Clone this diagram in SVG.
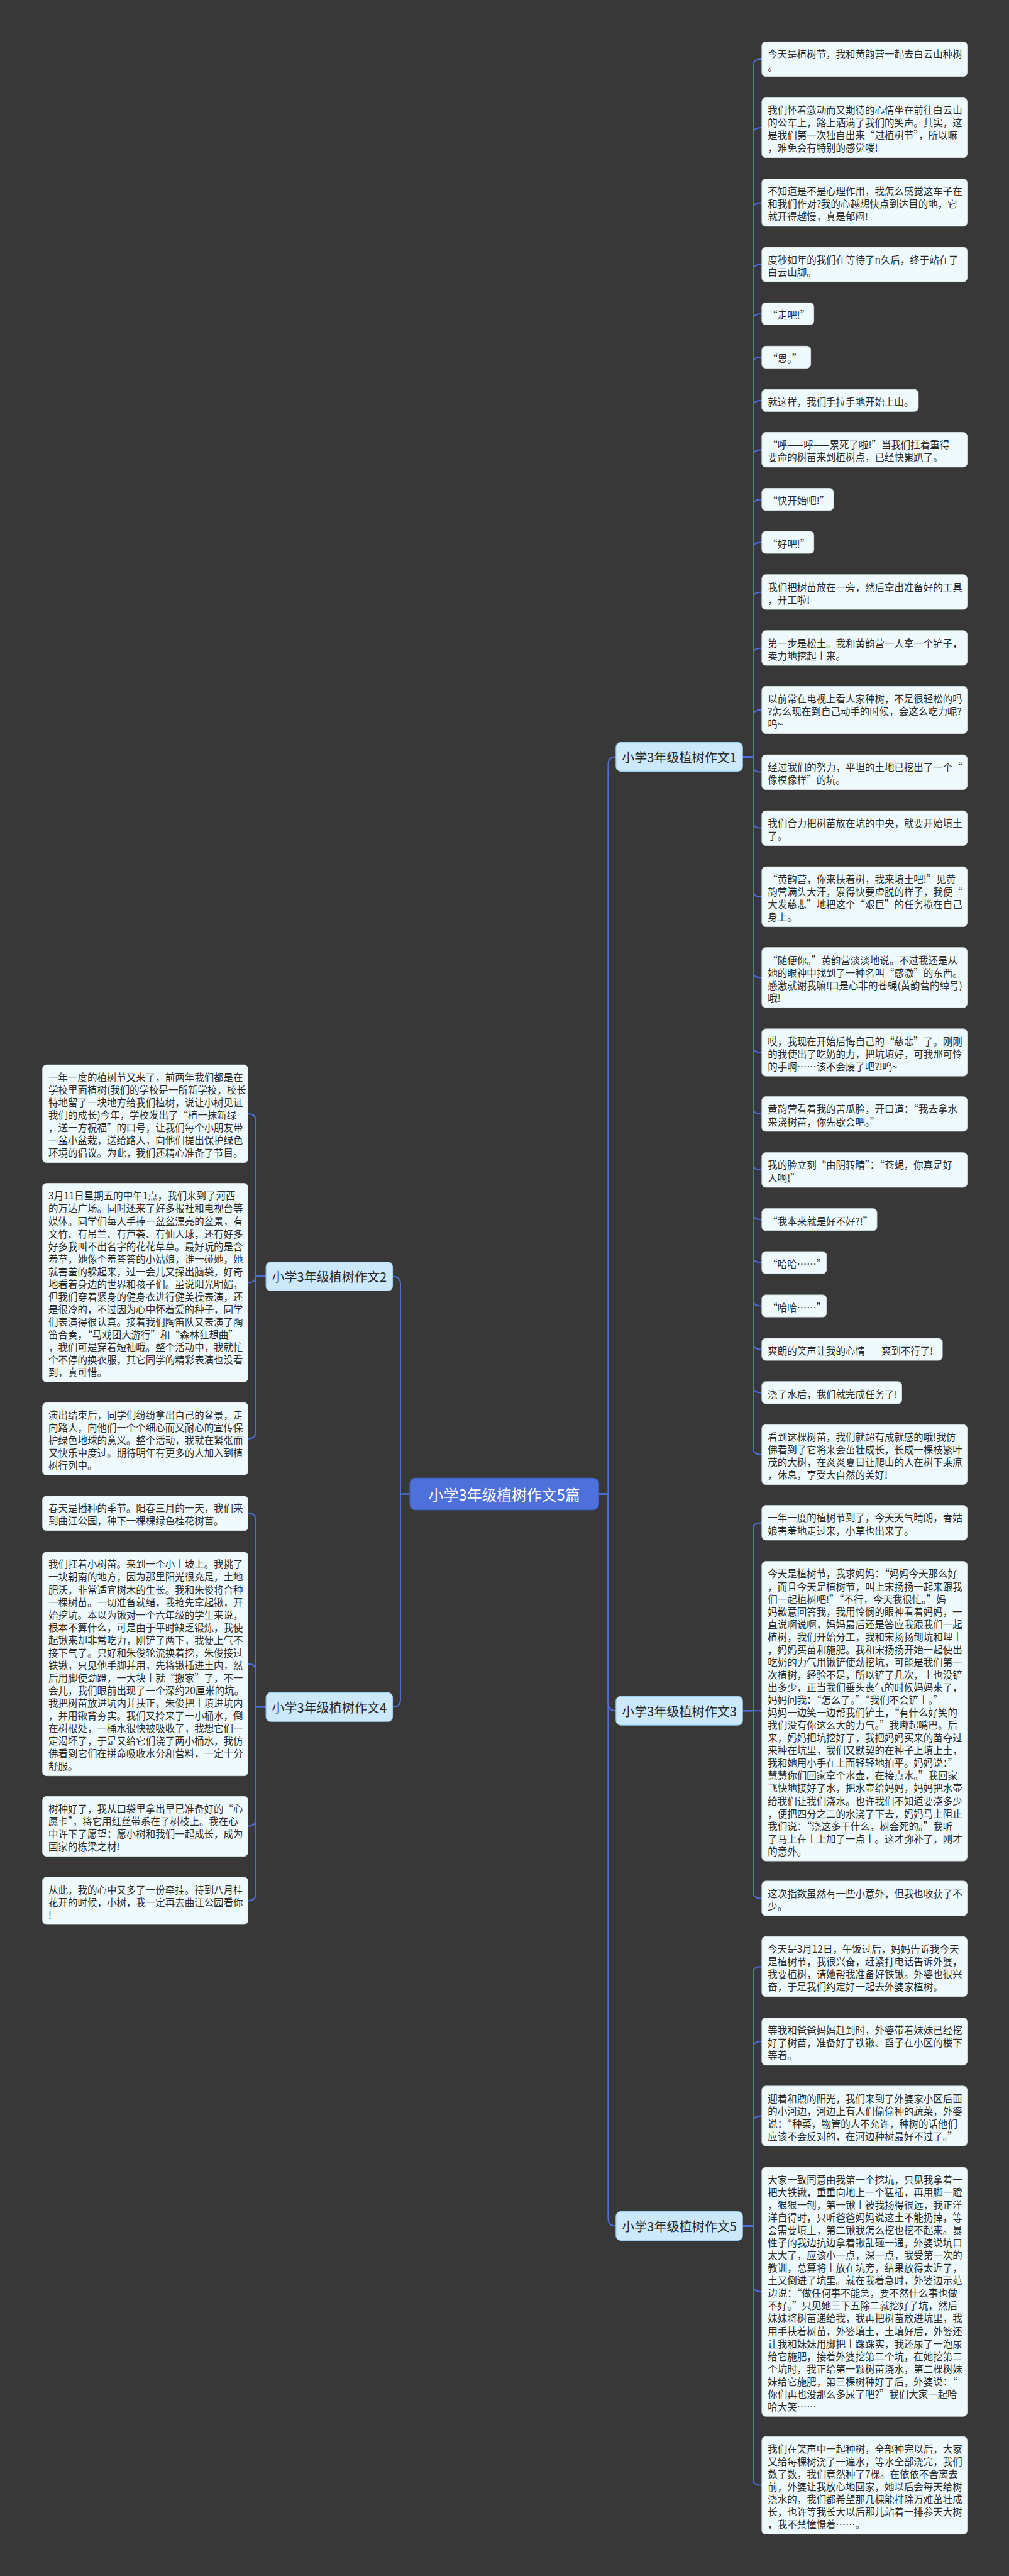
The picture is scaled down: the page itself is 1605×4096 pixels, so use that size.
<svg xmlns="http://www.w3.org/2000/svg" width="1605" height="4096" viewBox="0 0 1605 4096">
<style>
.bg{fill:#383838}
.leaf rect{fill:#effafd;stroke:#d3e0e4;stroke-width:1.5}
.br rect{fill:#cbe9fb;stroke:#9fcdee;stroke-width:2}
.root rect{fill:#4e70da;stroke:#4063cc;stroke-width:2}
.lt{font-family:"Noto Sans CJK SC","Noto Sans",sans-serif;font-size:24.7px;fill:#2a2a2a;dominant-baseline:central}
.bt{font-family:"Noto Sans CJK SC","Noto Sans",sans-serif;font-size:32px;fill:#2a2a2a;dominant-baseline:central;text-anchor:middle}
.rt{font-family:"Noto Sans CJK SC","Noto Sans",sans-serif;font-size:38px;fill:#ffffff;dominant-baseline:central;text-anchor:middle}
.cn path{fill:none;stroke:#4f70db;stroke-width:3.2}
</style>
<rect class="bg" x="0" y="0" width="1605" height="4096"/>
<g transform="scale(0.62695 0.62678)">
<g class="cn" id="connectors">
<path d="M1040,3790 H1016 V3258 Q1016,3238 996,3238"/>
<path d="M1040,3790 H1016 V4310.5 Q1016,4330.5 996,4330.5"/>
<path d="M1519,3790 H1543 V1940 Q1543,1920 1563,1920"/>
<path d="M1519,3790 H1543 V4320 Q1543,4340 1563,4340"/>
<path d="M1519,3790 H1543 V5627 Q1543,5647 1563,5647"/>
<path d="M1884,1920 H1911 V164 Q1911,150 1933,150"/>
<path d="M1884,1920 H1911 V338 Q1911,324 1933,324"/>
<path d="M1884,1920 H1911 V528 Q1911,514 1933,514"/>
<path d="M1884,1920 H1911 V685 Q1911,671 1933,671"/>
<path d="M1884,1920 H1911 V810 Q1911,796 1933,796"/>
<path d="M1884,1920 H1911 V920 Q1911,906 1933,906"/>
<path d="M1884,1920 H1911 V1030 Q1911,1016 1933,1016"/>
<path d="M1884,1920 H1911 V1155 Q1911,1141 1933,1141"/>
<path d="M1884,1920 H1911 V1281 Q1911,1267 1933,1267"/>
<path d="M1884,1920 H1911 V1390 Q1911,1376 1933,1376"/>
<path d="M1884,1920 H1911 V1516 Q1911,1502 1933,1502"/>
<path d="M1884,1920 H1911 V1658 Q1911,1644 1933,1644"/>
<path d="M1884,1920 H1911 V1815 Q1911,1801 1933,1801"/>
<path d="M1884,1920 H1911 V1945 Q1911,1959 1933,1959"/>
<path d="M1884,1920 H1911 V2087 Q1911,2101 1933,2101"/>
<path d="M1884,1920 H1911 V2261 Q1911,2275 1933,2275"/>
<path d="M1884,1920 H1911 V2466 Q1911,2480 1933,2480"/>
<path d="M1884,1920 H1911 V2656 Q1911,2670 1933,2670"/>
<path d="M1884,1920 H1911 V2812 Q1911,2826 1933,2826"/>
<path d="M1884,1920 H1911 V2954 Q1911,2968 1933,2968"/>
<path d="M1884,1920 H1911 V3080 Q1911,3094 1933,3094"/>
<path d="M1884,1920 H1911 V3189 Q1911,3203 1933,3203"/>
<path d="M1884,1920 H1911 V3299 Q1911,3313 1933,3313"/>
<path d="M1884,1920 H1911 V3409 Q1911,3423 1933,3423"/>
<path d="M1884,1920 H1911 V3519 Q1911,3533 1933,3533"/>
<path d="M1884,1920 H1911 V3676 Q1911,3690 1933,3690"/>
<path d="M1884,4340 H1911 V3877 Q1911,3863 1933,3863"/>
<path d="M1884,4340 H1933"/>
<path d="M1884,4340 H1911 V4802 Q1911,4816 1933,4816"/>
<path d="M1884,5647 H1911 V5003 Q1911,4989 1933,4989"/>
<path d="M1884,5647 H1911 V5193 Q1911,5179 1933,5179"/>
<path d="M1884,5647 H1911 V5382 Q1911,5368 1933,5368"/>
<path d="M1884,5647 H1911 V5800 Q1911,5814 1933,5814"/>
<path d="M1884,5647 H1911 V6291 Q1911,6305 1933,6305"/>
<path d="M675,3238 H648 V2839.5 Q648,2825.5 629,2825.5"/>
<path d="M675,3238 H648 V3240 Q648,3254 629,3254"/>
<path d="M675,3238 H648 V3636 Q648,3650 629,3650"/>
<path d="M675,4330.5 H648 V3853 Q648,3839 629,3839"/>
<path d="M675,4330.5 H648 V4235 Q648,4221 629,4221"/>
<path d="M675,4330.5 H648 V4619 Q648,4633 629,4633"/>
<path d="M675,4330.5 H648 V4808 Q648,4822 629,4822"/>
</g>

<g id="root" class="root"><rect x="1040" y="3750" width="479" height="80" rx="14"/><text class="rt" x="1279.5" y="3790">小学3年级植树作文5篇</text></g>
<g id="b1" class="br"><rect x="1563" y="1883.5" width="321" height="73" rx="12"/><text class="bt" x="1723.5" y="1920">小学3年级植树作文1</text></g>
<g id="b2" class="br"><rect x="675" y="3201.5" width="321" height="73" rx="12"/><text class="bt" x="835.5" y="3238">小学3年级植树作文2</text></g>
<g id="b3" class="br"><rect x="1563" y="4303.5" width="321" height="73" rx="12"/><text class="bt" x="1723.5" y="4340">小学3年级植树作文3</text></g>
<g id="b4" class="br"><rect x="675" y="4294" width="321" height="73" rx="12"/><text class="bt" x="835.5" y="4330.5">小学3年级植树作文4</text></g>
<g id="b5" class="br"><rect x="1563" y="5610.5" width="321" height="73" rx="12"/><text class="bt" x="1723.5" y="5647">小学3年级植树作文5</text></g>

<g id="n1-1" class="leaf"><rect x="1933" y="106" width="521" height="88" rx="10"/><text class="lt" x="1948" y="136"><tspan x="1948">今天是植树节，我和黄韵营一起去白云山种树</tspan><tspan x="1948" dy="32">。</tspan></text></g>
<g id="n1-2" class="leaf"><rect x="1933" y="248" width="521" height="152" rx="10"/><text class="lt" x="1948" y="278"><tspan x="1948">我们怀着激动而又期待的心情坐在前往白云山</tspan><tspan x="1948" dy="32">的公车上，路上洒满了我们的笑声。其实，这</tspan><tspan x="1948" dy="32">是我们第一次独自出来“过植树节”，所以嘛</tspan><tspan x="1948" dy="32">，难免会有特别的感觉喽!</tspan></text></g>
<g id="n1-3" class="leaf"><rect x="1933" y="454" width="521" height="120" rx="10"/><text class="lt" x="1948" y="484"><tspan x="1948">不知道是不是心理作用，我怎么感觉这车子在</tspan><tspan x="1948" dy="32">和我们作对?我的心越想快点到达目的地，它</tspan><tspan x="1948" dy="32">就开得越慢，真是郁闷!</tspan></text></g>
<g id="n1-4" class="leaf"><rect x="1933" y="627" width="521" height="88" rx="10"/><text class="lt" x="1948" y="657"><tspan x="1948">度秒如年的我们在等待了n久后，终于站在了</tspan><tspan x="1948" dy="32">白云山脚。</tspan></text></g>
<g id="n1-5" class="leaf"><rect x="1933" y="768" width="132" height="56" rx="10"/><text class="lt" x="1948" y="798">“走吧!”</text></g>
<g id="n1-6" class="leaf"><rect x="1933" y="878" width="124" height="56" rx="10"/><text class="lt" x="1948" y="908">“恩。”</text></g>
<g id="n1-7" class="leaf"><rect x="1933" y="988" width="397" height="56" rx="10"/><text class="lt" x="1948" y="1018">就这样，我们手拉手地开始上山。</text></g>
<g id="n1-8" class="leaf"><rect x="1933" y="1097" width="521" height="88" rx="10"/><text class="lt" x="1948" y="1127"><tspan x="1948">“呼——呼——累死了啦!”当我们扛着重得</tspan><tspan x="1948" dy="32">要命的树苗来到植树点，已经快累趴了。</tspan></text></g>
<g id="n1-9" class="leaf"><rect x="1933" y="1239" width="182" height="56" rx="10"/><text class="lt" x="1948" y="1269">“快开始吧!”</text></g>
<g id="n1-10" class="leaf"><rect x="1933" y="1348" width="132" height="56" rx="10"/><text class="lt" x="1948" y="1378">“好吧!”</text></g>
<g id="n1-11" class="leaf"><rect x="1933" y="1458" width="521" height="88" rx="10"/><text class="lt" x="1948" y="1488"><tspan x="1948">我们把树苗放在一旁，然后拿出准备好的工具</tspan><tspan x="1948" dy="32">，开工啦!</tspan></text></g>
<g id="n1-12" class="leaf"><rect x="1933" y="1600" width="521" height="88" rx="10"/><text class="lt" x="1948" y="1630"><tspan x="1948">第一步是松土。我和黄韵营一人拿一个铲子，</tspan><tspan x="1948" dy="32">卖力地挖起土来。</tspan></text></g>
<g id="n1-13" class="leaf"><rect x="1933" y="1741" width="521" height="120" rx="10"/><text class="lt" x="1948" y="1771"><tspan x="1948">以前常在电视上看人家种树，不是很轻松的吗</tspan><tspan x="1948" dy="32">?怎么现在到自己动手的时候，会这么吃力呢?</tspan><tspan x="1948" dy="32">呜~</tspan></text></g>
<g id="n1-14" class="leaf"><rect x="1933" y="1915" width="521" height="88" rx="10"/><text class="lt" x="1948" y="1945"><tspan x="1948">经过我们的努力，平坦的土地已挖出了一个“</tspan><tspan x="1948" dy="32">像模像样”的坑。</tspan></text></g>
<g id="n1-15" class="leaf"><rect x="1933" y="2057" width="521" height="88" rx="10"/><text class="lt" x="1948" y="2087"><tspan x="1948">我们合力把树苗放在坑的中央，就要开始填土</tspan><tspan x="1948" dy="32">了。</tspan></text></g>
<g id="n1-16" class="leaf"><rect x="1933" y="2199" width="521" height="152" rx="10"/><text class="lt" x="1948" y="2229"><tspan x="1948">“黄韵营，你来扶着树，我来填土吧!”见黄</tspan><tspan x="1948" dy="32">韵营满头大汗，累得快要虚脱的样子，我便“</tspan><tspan x="1948" dy="32">大发慈悲”地把这个“艰巨”的任务揽在自己</tspan><tspan x="1948" dy="32">身上。</tspan></text></g>
<g id="n1-17" class="leaf"><rect x="1933" y="2404" width="521" height="152" rx="10"/><text class="lt" x="1948" y="2434"><tspan x="1948">“随便你。”黄韵营淡淡地说。不过我还是从</tspan><tspan x="1948" dy="32">她的眼神中找到了一种名叫“感激”的东西。</tspan><tspan x="1948" dy="32">感激就谢我嘛!口是心非的苍蝇(黄韵营的绰号)</tspan><tspan x="1948" dy="32">哦!</tspan></text></g>
<g id="n1-18" class="leaf"><rect x="1933" y="2610" width="521" height="120" rx="10"/><text class="lt" x="1948" y="2640"><tspan x="1948">哎，我现在开始后悔自己的“慈悲”了。刚刚</tspan><tspan x="1948" dy="32">的我使出了吃奶的力，把坑填好，可我那可怜</tspan><tspan x="1948" dy="32">的手啊……该不会废了吧?!呜~</tspan></text></g>
<g id="n1-19" class="leaf"><rect x="1933" y="2782" width="521" height="88" rx="10"/><text class="lt" x="1948" y="2812"><tspan x="1948">黄韵营看着我的苦瓜脸，开口道：“我去拿水</tspan><tspan x="1948" dy="32">来浇树苗，你先歇会吧。”</tspan></text></g>
<g id="n1-20" class="leaf"><rect x="1933" y="2924" width="521" height="88" rx="10"/><text class="lt" x="1948" y="2954"><tspan x="1948">我的脸立刻“由阴转晴”：“苍蝇，你真是好</tspan><tspan x="1948" dy="32">人啊!”</tspan></text></g>
<g id="n1-21" class="leaf"><rect x="1933" y="3066" width="292" height="56" rx="10"/><text class="lt" x="1948" y="3096">“我本来就是好不好?!”</text></g>
<g id="n1-22" class="leaf"><rect x="1933" y="3175" width="164" height="56" rx="10"/><text class="lt" x="1948" y="3205">“哈哈……”</text></g>
<g id="n1-23" class="leaf"><rect x="1933" y="3285" width="164" height="56" rx="10"/><text class="lt" x="1948" y="3315">“哈哈……”</text></g>
<g id="n1-24" class="leaf"><rect x="1933" y="3395" width="458" height="56" rx="10"/><text class="lt" x="1948" y="3425">爽朗的笑声让我的心情——爽到不行了!</text></g>
<g id="n1-25" class="leaf"><rect x="1933" y="3505" width="355" height="56" rx="10"/><text class="lt" x="1948" y="3535">浇了水后，我们就完成任务了!</text></g>
<g id="n1-26" class="leaf"><rect x="1933" y="3614" width="521" height="152" rx="10"/><text class="lt" x="1948" y="3644"><tspan x="1948">看到这棵树苗，我们就超有成就感的哦!我仿</tspan><tspan x="1948" dy="32">佛看到了它将来会茁壮成长，长成一棵枝繁叶</tspan><tspan x="1948" dy="32">茂的大树，在炎炎夏日让爬山的人在树下乘凉</tspan><tspan x="1948" dy="32">，休息，享受大自然的美好!</tspan></text></g>

<g id="n3-1" class="leaf"><rect x="1933" y="3819" width="521" height="88" rx="10"/><text class="lt" x="1948" y="3849"><tspan x="1948">一年一度的植树节到了，今天天气晴朗，春姑</tspan><tspan x="1948" dy="32">娘害羞地走过来，小草也出来了。</tspan></text></g>
<g id="n3-2" class="leaf"><rect x="1933" y="3961" width="521" height="760" rx="10"/><text class="lt" x="1948" y="3991"><tspan x="1948">今天是植树节，我求妈妈：“妈妈今天那么好</tspan><tspan x="1948" dy="32">，而且今天是植树节，叫上宋扬扬一起来跟我</tspan><tspan x="1948" dy="32">们一起植树吧!”“不行，今天我很忙。”妈</tspan><tspan x="1948" dy="32">妈歉意回答我，我用怜悯的眼神看着妈妈，一</tspan><tspan x="1948" dy="32">直说啊说啊，妈妈最后还是答应我跟我们一起</tspan><tspan x="1948" dy="32">植树，我们开始分工，我和宋扬扬刨坑和埋土</tspan><tspan x="1948" dy="32">，妈妈买苗和施肥。我和宋扬扬开始一起使出</tspan><tspan x="1948" dy="32">吃奶的力气用锹铲使劲挖坑，可能是我们第一</tspan><tspan x="1948" dy="32">次植树，经验不足，所以铲了几次，土也没铲</tspan><tspan x="1948" dy="32">出多少，正当我们垂头丧气的时候妈妈来了，</tspan><tspan x="1948" dy="32">妈妈问我：“怎么了。”“我们不会铲土。”</tspan><tspan x="1948" dy="32">妈妈一边笑一边帮我们铲土，“有什么好笑的</tspan><tspan x="1948" dy="32">我们没有你这么大的力气。”我嘟起嘴巴。后</tspan><tspan x="1948" dy="32">来，妈妈把坑挖好了，我把妈妈买来的苗夺过</tspan><tspan x="1948" dy="32">来种在坑里，我们又默契的在种子上填上土，</tspan><tspan x="1948" dy="32">我和她用小手在上面轻轻地拍平。妈妈说：”</tspan><tspan x="1948" dy="32">慧慧你们回家拿个水壶，在接点水。”我回家</tspan><tspan x="1948" dy="32">飞快地接好了水，把水壶给妈妈，妈妈把水壶</tspan><tspan x="1948" dy="32">给我们让我们浇水。也许我们不知道要浇多少</tspan><tspan x="1948" dy="32">，便把四分之二的水浇了下去，妈妈马上阻止</tspan><tspan x="1948" dy="32">我们说：“浇这多干什么，树会死的。”我听</tspan><tspan x="1948" dy="32">了马上在土上加了一点土。这才弥补了，刚才</tspan><tspan x="1948" dy="32">的意外。</tspan></text></g>
<g id="n3-3" class="leaf"><rect x="1933" y="4772" width="521" height="88" rx="10"/><text class="lt" x="1948" y="4802"><tspan x="1948">这次指数虽然有一些小意外，但我也收获了不</tspan><tspan x="1948" dy="32">少。</tspan></text></g>

<g id="n5-1" class="leaf"><rect x="1933" y="4913" width="521" height="152" rx="10"/><text class="lt" x="1948" y="4943"><tspan x="1948">今天是3月12日，午饭过后，妈妈告诉我今天</tspan><tspan x="1948" dy="32">是植树节，我很兴奋，赶紧打电话告诉外婆，</tspan><tspan x="1948" dy="32">我要植树，请她帮我准备好铁锹。外婆也很兴</tspan><tspan x="1948" dy="32">奋，于是我们约定好一起去外婆家植树。</tspan></text></g>
<g id="n5-2" class="leaf"><rect x="1933" y="5119" width="521" height="120" rx="10"/><text class="lt" x="1948" y="5149"><tspan x="1948">等我和爸爸妈妈赶到时，外婆带着妹妹已经挖</tspan><tspan x="1948" dy="32">好了树苗，准备好了铁锹、舀子在小区的楼下</tspan><tspan x="1948" dy="32">等着。</tspan></text></g>
<g id="n5-3" class="leaf"><rect x="1933" y="5292" width="521" height="152" rx="10"/><text class="lt" x="1948" y="5322"><tspan x="1948">迎着和煦的阳光，我们来到了外婆家小区后面</tspan><tspan x="1948" dy="32">的小河边，河边上有人们偷偷种的蔬菜，外婆</tspan><tspan x="1948" dy="32">说：“种菜，物管的人不允许，种树的话他们</tspan><tspan x="1948" dy="32">应该不会反对的，在河边种树最好不过了。”</tspan></text></g>
<g id="n5-4" class="leaf"><rect x="1933" y="5498" width="521" height="632" rx="10"/><text class="lt" x="1948" y="5528"><tspan x="1948">大家一致同意由我第一个挖坑，只见我拿着一</tspan><tspan x="1948" dy="32">把大铁锹，重重向地上一个猛插，再用脚一蹬</tspan><tspan x="1948" dy="32">，狠狠一刨，第一锹土被我扬得很远，我正洋</tspan><tspan x="1948" dy="32">洋自得时，只听爸爸妈妈说这土不能扔掉，等</tspan><tspan x="1948" dy="32">会需要填土，第二锹我怎么挖也挖不起来。暴</tspan><tspan x="1948" dy="32">性子的我边抗边拿着锹乱砸一通，外婆说坑口</tspan><tspan x="1948" dy="32">太大了，应该小一点，深一点，我受第一次的</tspan><tspan x="1948" dy="32">教训，总算将土放在坑旁，结果放得太近了，</tspan><tspan x="1948" dy="32">土又倒进了坑里。就在我着急时，外婆边示范</tspan><tspan x="1948" dy="32">边说：“做任何事不能急，要不然什么事也做</tspan><tspan x="1948" dy="32">不好。”只见她三下五除二就挖好了坑，然后</tspan><tspan x="1948" dy="32">妹妹将树苗递给我，我再把树苗放进坑里，我</tspan><tspan x="1948" dy="32">用手扶着树苗，外婆填土，土填好后，外婆还</tspan><tspan x="1948" dy="32">让我和妹妹用脚把土踩踩实，我还尿了一泡尿</tspan><tspan x="1948" dy="32">给它施肥，接着外婆挖第二个坑，在她挖第二</tspan><tspan x="1948" dy="32">个坑时，我正给第一颗树苗浇水，第二棵树妹</tspan><tspan x="1948" dy="32">妹给它施肥，第三棵树种好了后，外婆说：“</tspan><tspan x="1948" dy="32">你们再也没那么多尿了吧?”我们大家一起哈</tspan><tspan x="1948" dy="32">哈大笑……</tspan></text></g>
<g id="n5-5" class="leaf"><rect x="1933" y="6181" width="521" height="248" rx="10"/><text class="lt" x="1948" y="6211"><tspan x="1948">我们在笑声中一起种树，全部种完以后，大家</tspan><tspan x="1948" dy="32">又给每棵树浇了一遍水，等水全部浇完，我们</tspan><tspan x="1948" dy="32">数了数，我们竟然种了7棵。在依依不舍离去</tspan><tspan x="1948" dy="32">前，外婆让我放心地回家，她以后会每天给树</tspan><tspan x="1948" dy="32">浇水的，我们都希望那几棵能排除万难茁壮成</tspan><tspan x="1948" dy="32">长，也许等我长大以后那儿站着一排参天大树</tspan><tspan x="1948" dy="32">，我不禁憧憬着……。</tspan></text></g>

<g id="n2-1" class="leaf"><rect x="108" y="2701.5" width="521" height="248" rx="10"/><text class="lt" x="123" y="2731.5"><tspan x="123">一年一度的植树节又来了，前两年我们都是在</tspan><tspan x="123" dy="32">学校里面植树(我们的学校是一所新学校，校长</tspan><tspan x="123" dy="32">特地留了一块地方给我们植树，说让小树见证</tspan><tspan x="123" dy="32">我们的成长)今年，学校发出了“植一抹新绿</tspan><tspan x="123" dy="32">，送一方祝福”的口号，让我们每个小朋友带</tspan><tspan x="123" dy="32">一盆小盆栽，送给路人，向他们提出保护绿色</tspan><tspan x="123" dy="32">环境的倡议。为此，我们还精心准备了节目。</tspan></text></g>
<g id="n2-2" class="leaf"><rect x="108" y="3002" width="521" height="504" rx="10"/><text class="lt" x="123" y="3032"><tspan x="123">3月11日星期五的中午1点，我们来到了河西</tspan><tspan x="123" dy="32">的万达广场。同时还来了好多报社和电视台等</tspan><tspan x="123" dy="32">媒体。同学们每人手捧一盆盆漂亮的盆景，有</tspan><tspan x="123" dy="32">文竹、有吊兰、有芦荟、有仙人球，还有好多</tspan><tspan x="123" dy="32">好多我叫不出名字的花花草草。最好玩的是含</tspan><tspan x="123" dy="32">羞草，她像个羞答答的小姑娘，谁一碰她，她</tspan><tspan x="123" dy="32">就害羞的躲起来，过一会儿又探出脑袋，好奇</tspan><tspan x="123" dy="32">地看着身边的世界和孩子们。虽说阳光明媚，</tspan><tspan x="123" dy="32">但我们穿着紧身的健身衣进行健美操表演，还</tspan><tspan x="123" dy="32">是很冷的，不过因为心中怀着爱的种子，同学</tspan><tspan x="123" dy="32">们表演得很认真。接着我们陶笛队又表演了陶</tspan><tspan x="123" dy="32">笛合奏，“马戏团大游行”和“森林狂想曲”</tspan><tspan x="123" dy="32">，我们可是穿着短袖哦。整个活动中，我就忙</tspan><tspan x="123" dy="32">个不停的换衣服，其它同学的精彩表演也没看</tspan><tspan x="123" dy="32">到，真可惜。</tspan></text></g>
<g id="n2-3" class="leaf"><rect x="108" y="3558" width="521" height="184" rx="10"/><text class="lt" x="123" y="3588"><tspan x="123">演出结束后，同学们纷纷拿出自己的盆景，走</tspan><tspan x="123" dy="32">向路人，向他们一个个细心而又耐心的宣传保</tspan><tspan x="123" dy="32">护绿色地球的意义。整个活动，我就在紧张而</tspan><tspan x="123" dy="32">又快乐中度过。期待明年有更多的人加入到植</tspan><tspan x="123" dy="32">树行列中。</tspan></text></g>

<g id="n4-1" class="leaf"><rect x="108" y="3795" width="521" height="88" rx="10"/><text class="lt" x="123" y="3825"><tspan x="123">春天是播种的季节。阳春三月的一天，我们来</tspan><tspan x="123" dy="32">到曲江公园，种下一棵棵绿色桂花树苗。</tspan></text></g>
<g id="n4-2" class="leaf"><rect x="108" y="3937" width="521" height="568" rx="10"/><text class="lt" x="123" y="3967"><tspan x="123">我们扛着小树苗。来到一个小土坡上。我挑了</tspan><tspan x="123" dy="32">一块朝南的地方，因为那里阳光很充足，土地</tspan><tspan x="123" dy="32">肥沃，非常适宜树木的生长。我和朱俊将合种</tspan><tspan x="123" dy="32">一棵树苗。一切准备就绪，我抢先拿起锹，开</tspan><tspan x="123" dy="32">始挖坑。本以为锹对一个六年级的学生来说，</tspan><tspan x="123" dy="32">根本不算什么，可是由于平时缺乏锻炼，我使</tspan><tspan x="123" dy="32">起锹来却非常吃力，刚铲了两下，我便上气不</tspan><tspan x="123" dy="32">接下气了。只好和朱俊轮流换着挖，朱俊接过</tspan><tspan x="123" dy="32">铁锹，只见他手脚并用，先将锹插进土内，然</tspan><tspan x="123" dy="32">后用脚使劲蹬，一大块土就“搬家”了，不一</tspan><tspan x="123" dy="32">会儿，我们眼前出现了一个深约20厘米的坑。</tspan><tspan x="123" dy="32">我把树苗放进坑内并扶正，朱俊把土填进坑内</tspan><tspan x="123" dy="32">，并用锹背夯实。我们又拎来了一小桶水，倒</tspan><tspan x="123" dy="32">在树根处，一桶水很快被吸收了，我想它们一</tspan><tspan x="123" dy="32">定渴坏了，于是又给它们浇了两小桶水，我仿</tspan><tspan x="123" dy="32">佛看到它们在拼命吸收水分和营料，一定十分</tspan><tspan x="123" dy="32">舒服。</tspan></text></g>
<g id="n4-3" class="leaf"><rect x="108" y="4557" width="521" height="152" rx="10"/><text class="lt" x="123" y="4587"><tspan x="123">树种好了，我从口袋里拿出早已准备好的“心</tspan><tspan x="123" dy="32">愿卡”，将它用红丝带系在了树枝上。我在心</tspan><tspan x="123" dy="32">中许下了愿望：愿小树和我们一起成长，成为</tspan><tspan x="123" dy="32">国家的栋梁之材!</tspan></text></g>
<g id="n4-4" class="leaf"><rect x="108" y="4762" width="521" height="120" rx="10"/><text class="lt" x="123" y="4792"><tspan x="123">从此，我的心中又多了一份牵挂。待到八月桂</tspan><tspan x="123" dy="32">花开的时候，小树，我一定再去曲江公园看你</tspan><tspan x="123" dy="32">!</tspan></text></g>
</g>
</svg>
